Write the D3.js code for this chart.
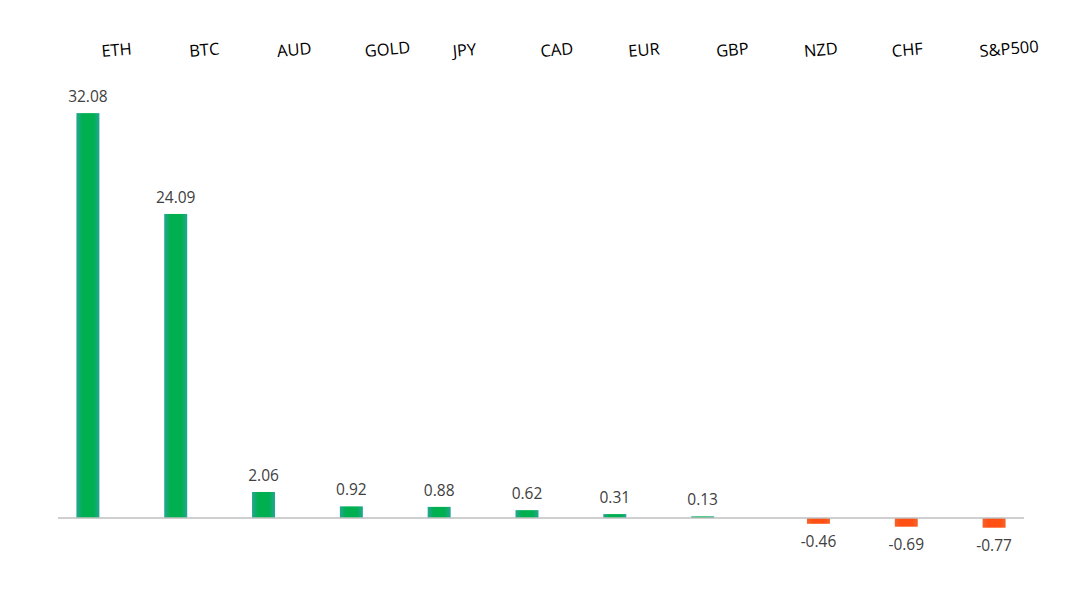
<!DOCTYPE html>
<html>
<head>
<meta charset="utf-8">
<script src="https://cdn.jsdelivr.net/npm/d3@7"></script>
<style>
  body { margin: 0; background: #fff; }
  svg { display: block; }
</style>
</head>
<body>
<div id="chart"></div>
<script>
// values
const categories = ["ETH", "BTC", "AUD", "GOLD", "JPY", "CAD", "EUR", "GBP", "NZD", "CHF", "S&P500"];
const changes = [32.08, 24.09, 2.06, 0.92, 0.88, 0.62, 0.31, 0.13, -0.46, -0.69, -0.77];
const seriesNames = ["gain", "loss"];

const width = 1080,
    height = 610;

const svg = d3.select("#chart").append("svg")
    .attr("width", width)
    .attr("height", height);

const defs = svg.append("defs");

// soft edges, flat middle - close enough to excel's "from center" fill
const makeGrad = (id, center, edge) => {
    const g = defs.append("linearGradient")
        .attr("id", id)
        .attr("x1", "0%").attr("x2", "100%");
    [[0, edge], [25, center], [75, center], [100, edge]].forEach(s => {
        g.append("stop").attr("offset", s[0] + "%").attr("stop-color", s[1]);
    });
};
makeGrad("gradUp", "#00b050", "#27a596");
makeGrad("gradDown", "#ff4f12", "#f4642a");

const x = d3.scaleBand()
    .domain(categories)
    .range([58, 1024]);

// two series per category like the excel source: gains sit left, losses right
const xs = d3.scaleBand()
    .domain(seriesNames)
    .range([x.bandwidth() / 2 - 25.5, x.bandwidth() / 2 + 25.5])
    .paddingInner(5 / 28);

const y = d3.scaleLinear()
    .domain([-1, 33])
    .range([530.6, 101.5]);

const data = categories.map((c, i) => ({ name: c, value: changes[i], series: changes[i] >= 0 ? "gain" : "loss" }));

const bars = svg.append("g");

bars.selectAll("rect")
    .data(data)
    .join("rect")
    .attr("x", d => x(d.name) + xs(d.series))
    .attr("width", xs.bandwidth())
    .attr("y", d => y(Math.max(0, d.value)))
    .attr("height", d => Math.abs(y(d.value) - y(0)))
    .attr("fill", d => d.value >= 0 ? "url(#gradUp)" : "url(#gradDown)");

// zero line
svg.append("line")
    .attr("x1", x.range()[0])
    .attr("x2", x.range()[1])
    .attr("y1", y(0))
    .attr("y2", y(0))
    .attr("stroke", "#bfbfbf")
    .attr("stroke-width", 1.5);

// value labels (plain hyphen for negatives, as in the source)
svg.append("g").selectAll("text")
    .data(data)
    .join("text")
    .attr("x", d => x(d.name) + xs(d.series) + xs.bandwidth() / 2)
    .attr("y", d => d.value >= 0 ? y(d.value) - 11 : y(d.value) + 23)
    .attr("text-anchor", "middle")
    .attr("font-family", "'Open Sans', sans-serif")
    .attr("font-size", 15.5)
    .attr("fill", "#404040")
    .text(d => d.value.toFixed(2));

// category labels along the top, slightly tilted
svg.append("g").selectAll("text")
    .data(categories)
    .join("text")
    .attr("transform", d => `translate(${x(d) + x.bandwidth() / 2},57) rotate(-5)`)
    .attr("text-anchor", "start")
    .attr("font-family", "'Open Sans', sans-serif")
    .attr("font-size", 16.5)
    .attr("fill", "#000")
    .text(d => d);
</script>
</body>
</html>
